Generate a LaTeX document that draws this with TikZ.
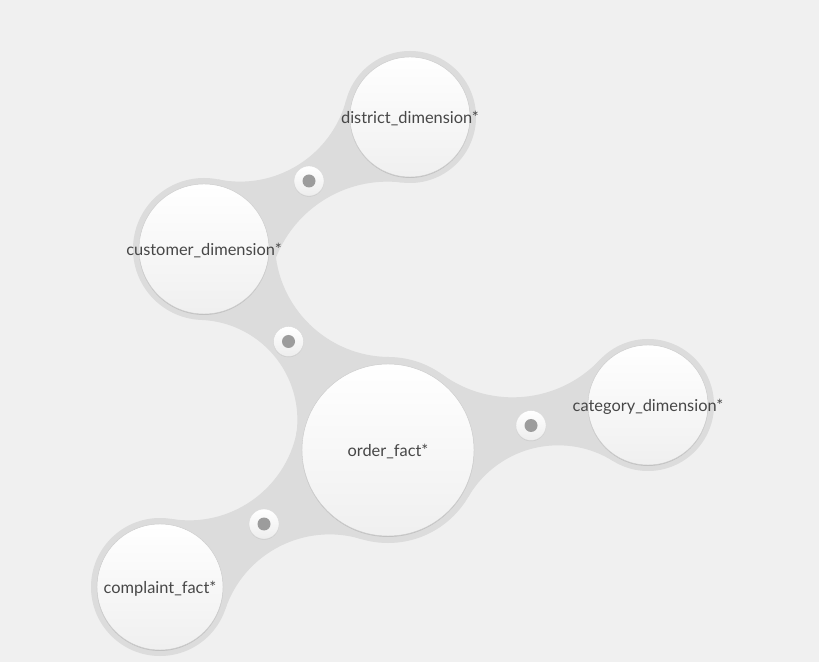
\documentclass[tikz,border=0pt]{standalone}
\usepackage{fontspec}
\setmainfont{Lato}
\usetikzlibrary{shadows}
\pgfdeclarelayer{back}
\pgfsetlayers{back,main}
\definecolor{paper}{HTML}{F0F0F0}
\definecolor{webgray}{HTML}{DCDCDC}
\definecolor{labelgray}{HTML}{474747}
\definecolor{pingray}{HTML}{9C9C9C}
\tikzset{
  every picture/.style={x=0.3mm, y=0.3mm},
  tbl/.style={circle, inner sep=0pt, minimum size=#1*0.6mm,
    top color=white, bottom color=black!6, draw=black!20, line width=0.4pt,
    drop shadow={shadow xshift=0pt, shadow yshift=-0.8pt, opacity=0.3}},
  tbltext/.style={text=labelgray, font=\fontsize{14}{16}\selectfont, yshift=-0.45mm},
  joint/.style={circle, inner sep=0pt, minimum size=9mm,
    top color=white, bottom color=black!7, draw=black!15, line width=0.3pt,
    drop shadow={shadow xshift=0pt, shadow yshift=-0.6pt, opacity=0.2},
    path picture={\fill[pingray] (path picture bounding box.center) circle[radius=6.5];}},
  web/.style={fill=webgray}
}
% web between two tables: from, to, halo radius from, halo radius to, edge radii
\newcommand\web[6]{%
  \pgfpointdiff{\pgfpointanchor{#1}{center}}{\pgfpointanchor{#2}{center}}%
  \pgfgetlastxy\wdx\wdy
  \pgfmathsetmacro\wang{atan2(\wdy,\wdx)}%
  \pgfmathsetmacro\wlen{veclen(\wdx,\wdy)/0.85358}%
  % upper edge circle
  \pgfmathsetmacro\ux{\wlen/2+(#3-#4)*(#3+#4+2*#5)/(2*\wlen)}%
  \pgfmathsetmacro\uy{10*sqrt(((#3+#5-\ux)/10)*((#3+#5+\ux)/10))}%
  \pgfmathsetmacro\uax{\ux/(#3+#5)*#3}%
  \pgfmathsetmacro\uay{\uy/(#3+#5)*#3}%
  \pgfmathsetmacro\uas{atan2(-\uy,-\ux)}%
  \pgfmathsetmacro\uae{atan2(-\uy,\wlen-\ux)}%
  % lower edge circle
  \pgfmathsetmacro\lx{\wlen/2+(#3-#4)*(#3+#4+2*#6)/(2*\wlen)}%
  \pgfmathsetmacro\ly{10*sqrt(((#3+#6-\lx)/10)*((#3+#6+\lx)/10))}%
  \pgfmathsetmacro\lbx{\wlen+(\lx-\wlen)/(#4+#6)*#4}%
  \pgfmathsetmacro\lby{-\ly/(#4+#6)*#4}%
  \pgfmathsetmacro\las{atan2(\ly,\wlen-\lx)}%
  \pgfmathsetmacro\lae{atan2(\ly,-\lx)}%
  \begin{scope}[shift={(#1.center)}, rotate=\wang]
    \fill[web] (\uax,\uay) arc[start angle=\uas, end angle=\uae, radius=#5]
      -- (\wlen,0) -- (\lbx,\lby) arc[start angle=\las, end angle=\lae, radius=#6]
      -- (0,0) -- cycle;
  \end{scope}
}

\begin{document}
\begin{tikzpicture}
    % Tables
    \node[tbl=60, label={[tbltext]center:district\_dimension*}] (district) at (410,545) {};
    \node[tbl=65, label={[tbltext]center:customer\_dimension*}] (customer) at (204,413) {};
    \node[tbl=86, label={[tbltext]center:order\_fact*}] (order) at (388,212) {};
    \node[tbl=60, label={[tbltext]center:category\_dimension*}] (category) at (648,257) {};
    \node[tbl=63, label={[tbltext]center:complaint\_fact*}] (complaint) at (160,75) {};

    % Joins
    \node[joint] (cd) at (309,481) {};
    \node[joint] (co) at (288.5,320.5) {};
    \node[joint] (og) at (531,236.5) {};
    \node[joint] (op) at (264,138) {};

    \begin{pgfonlayer}{back}
        \fill[paper] (0,0) rectangle (819,662);
        \useasboundingbox (0,0) rectangle (819,662);

        % Webs and halos
        \web{customer}{district}{71}{66}{110}{120}
        \web{customer}{order}{71}{93}{115}{100}
        \web{order}{category}{93}{66}{120}{104}
        \web{order}{complaint}{93}{69}{110}{110}
        \foreach \t/\r in {district/66, customer/71, order/93, category/66, complaint/69}
            \fill[webgray] (\t.center) circle[radius=\r];
    \end{pgfonlayer}
\end{tikzpicture}
\end{document}
